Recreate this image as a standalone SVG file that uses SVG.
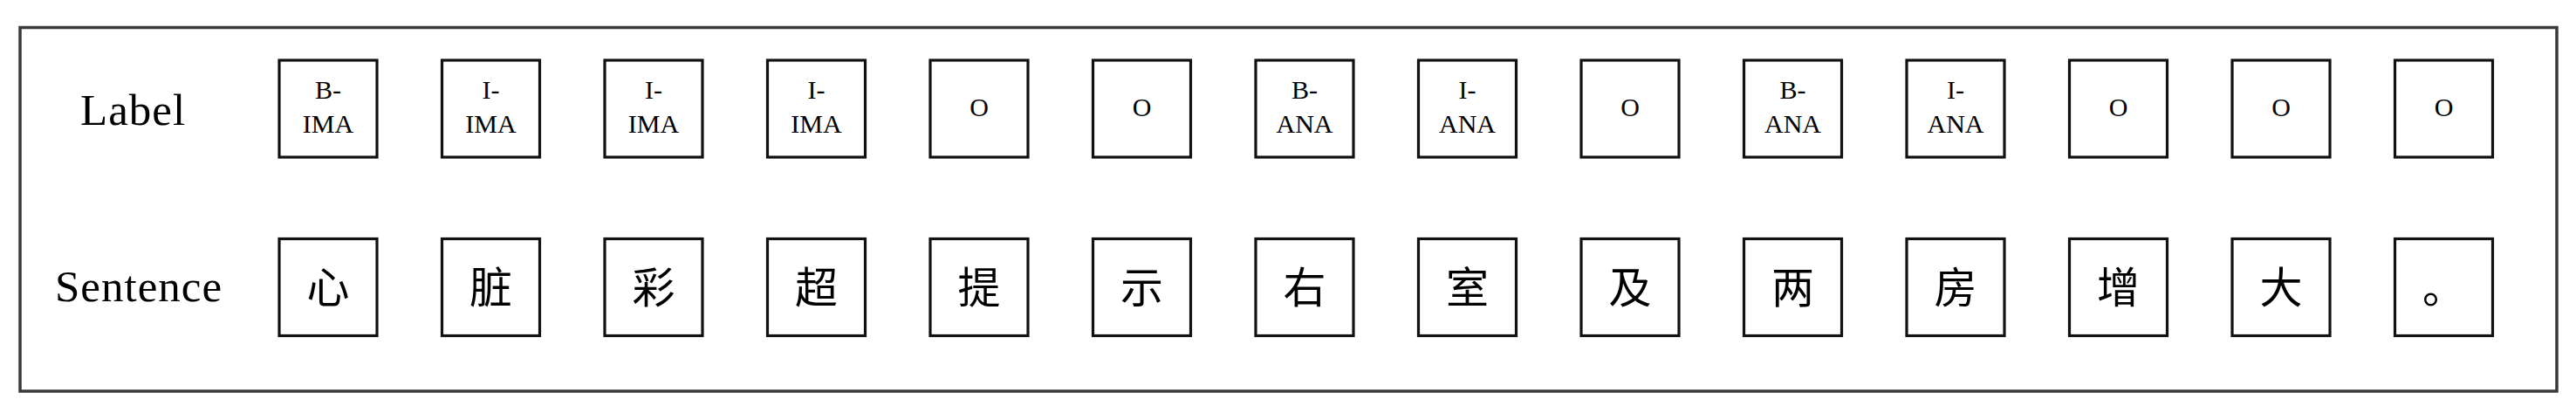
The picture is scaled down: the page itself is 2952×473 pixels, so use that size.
<svg xmlns="http://www.w3.org/2000/svg" width="2952" height="473" viewBox="0 0 2952 473">
<style>
.frame{fill:#fff;stroke:#3a3a3a;stroke-width:3.5}
.box{fill:#fff;stroke:#111;stroke-width:3.2}
.hdr{font-family:"Liberation Serif","Times New Roman",serif;font-size:51px;fill:#000;letter-spacing:1px}
.lbl{font-family:"Liberation Serif","Times New Roman",serif;font-size:30px;fill:#000;text-anchor:middle}
.chr{font-family:"Noto Sans CJK SC","Noto Sans CJK JP",sans-serif;font-size:49px;fill:#000;text-anchor:middle}
</style>
<defs>
<rect id="b" class="box" x="-56" y="0" width="112" height="111"/>
</defs>
<rect class="frame" x="23" y="31.5" width="2907" height="416.5"/>
<g id="row-headers">
<text class="hdr" x="92" y="143">Label</text>
<text class="hdr" x="63" y="345">Sentence</text>
</g>
<g id="label-row">
<g id="label-1" transform="translate(376,69)"><use href="#b"/><text class="lbl" y="44">B-</text><text class="lbl" y="83">IMA</text></g>
<g id="label-2" transform="translate(562.5,69)"><use href="#b"/><text class="lbl" y="44">I-</text><text class="lbl" y="83">IMA</text></g>
<g id="label-3" transform="translate(749,69)"><use href="#b"/><text class="lbl" y="44">I-</text><text class="lbl" y="83">IMA</text></g>
<g id="label-4" transform="translate(935.5,69)"><use href="#b"/><text class="lbl" y="44">I-</text><text class="lbl" y="83">IMA</text></g>
<g id="label-5" transform="translate(1122,69)"><use href="#b"/><text class="lbl" y="64">O</text></g>
<g id="label-6" transform="translate(1308.5,69)"><use href="#b"/><text class="lbl" y="64">O</text></g>
<g id="label-7" transform="translate(1495,69)"><use href="#b"/><text class="lbl" y="44">B-</text><text class="lbl" y="83">ANA</text></g>
<g id="label-8" transform="translate(1681.5,69)"><use href="#b"/><text class="lbl" y="44">I-</text><text class="lbl" y="83">ANA</text></g>
<g id="label-9" transform="translate(1868,69)"><use href="#b"/><text class="lbl" y="64">O</text></g>
<g id="label-10" transform="translate(2054.5,69)"><use href="#b"/><text class="lbl" y="44">B-</text><text class="lbl" y="83">ANA</text></g>
<g id="label-11" transform="translate(2241,69)"><use href="#b"/><text class="lbl" y="44">I-</text><text class="lbl" y="83">ANA</text></g>
<g id="label-12" transform="translate(2427.5,69)"><use href="#b"/><text class="lbl" y="64">O</text></g>
<g id="label-13" transform="translate(2614,69)"><use href="#b"/><text class="lbl" y="64">O</text></g>
<g id="label-14" transform="translate(2800.5,69)"><use href="#b"/><text class="lbl" y="64">O</text></g>
</g>
<g id="sentence-row">
<g id="char-1" transform="translate(376,273.5)"><use href="#b"/><text class="chr" y="73">心</text></g>
<g id="char-2" transform="translate(562.5,273.5)"><use href="#b"/><text class="chr" y="73">脏</text></g>
<g id="char-3" transform="translate(749,273.5)"><use href="#b"/><text class="chr" y="73">彩</text></g>
<g id="char-4" transform="translate(935.5,273.5)"><use href="#b"/><text class="chr" y="73">超</text></g>
<g id="char-5" transform="translate(1122,273.5)"><use href="#b"/><text class="chr" y="73">提</text></g>
<g id="char-6" transform="translate(1308.5,273.5)"><use href="#b"/><text class="chr" y="73">示</text></g>
<g id="char-7" transform="translate(1495,273.5)"><use href="#b"/><text class="chr" y="73">右</text></g>
<g id="char-8" transform="translate(1681.5,273.5)"><use href="#b"/><text class="chr" y="73">室</text></g>
<g id="char-9" transform="translate(1868,273.5)"><use href="#b"/><text class="chr" y="73">及</text></g>
<g id="char-10" transform="translate(2054.5,273.5)"><use href="#b"/><text class="chr" y="73">两</text></g>
<g id="char-11" transform="translate(2241,273.5)"><use href="#b"/><text class="chr" y="73">房</text></g>
<g id="char-12" transform="translate(2427.5,273.5)"><use href="#b"/><text class="chr" y="73">增</text></g>
<g id="char-13" transform="translate(2614,273.5)"><use href="#b"/><text class="chr" y="73">大</text></g>
<g id="char-14" transform="translate(2800.5,273.5)"><use href="#b"/><text class="chr" y="73">。</text></g>
</g>
</svg>
